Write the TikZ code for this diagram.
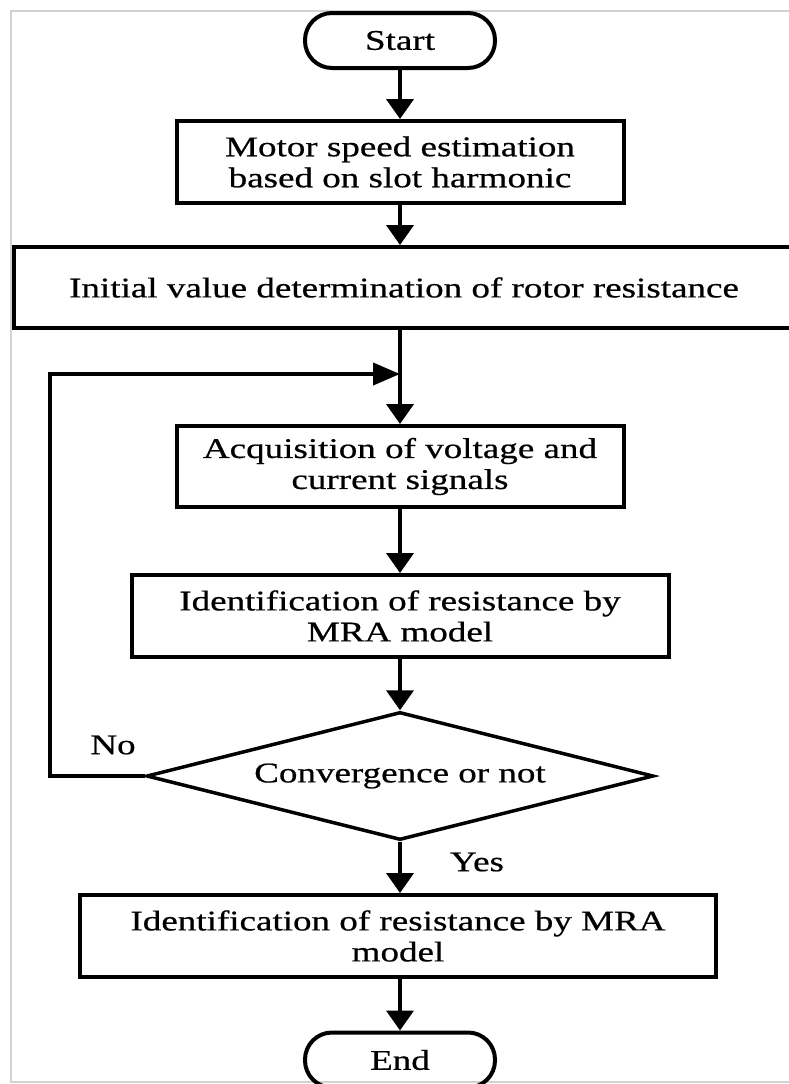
\documentclass[tikz,border=0pt]{standalone}
\usepackage{fontspec}
\setmainfont[FakeStretch=1.3,FakeBold=0.6]{Liberation Serif}
\usetikzlibrary{positioning,arrows.meta,shapes.geometric}
\tikzset{>={Triangle[length=20pt,width=27pt]}}
\tikzset{
  box/.style={rectangle,draw=black,line width=4pt,align=center,inner sep=0pt,font=\fontsize{28.5}{31}\selectfont},
  term/.style={rectangle,rounded corners=27pt,draw=black,line width=4pt,minimum width=190pt,minimum height=55pt,font=\fontsize{28.5}{31}\selectfont},
  decide/.style={diamond,draw=black,line width=3.5pt,shape aspect=4,inner sep=0pt,minimum width=507pt,minimum height=128pt,font=\fontsize{28.5}{31}\selectfont},
  lbl/.style={font=\fontsize{28.5}{31}\selectfont},
  conn/.style={line width=4pt}
}

\begin{document}
\begin{tikzpicture}[x=1pt,y=-1pt]
\useasboundingbox (0,0) rectangle (789,1084);
% frame of the figure
\draw[gray!35,line width=1.5pt] (789,11) -- (11,11) -- (11,1082) -- (789,1082);

\node[term] (1) at(400,40.5){Start};
\node[box,minimum width=447pt,minimum height=82pt] (2) at(400,162){Motor speed estimation\\based on slot harmonic};
\node[box,minimum width=780pt,minimum height=81pt] (3) at(404,287.5){Initial value determination of rotor resistance};
\node[box,minimum width=447pt,minimum height=81pt] (4) at(400,466.5){Acquisition of voltage and\\current signals};
\node[box,minimum width=537pt,minimum height=82pt] (5) at(400,616){Identification of resistance by\\MRA model};
\node[decide] (6) at(400,776){Convergence or not};
\node[box,minimum width=636pt,minimum height=82pt] (7) at(398,936){Identification of resistance by MRA\\model};
\node[term] (8) at(400,1060){End};

\node[lbl] (no) at(113,745){No};
\node[lbl] (yes) at(477,862){Yes};

\coordinate (j) at(400,374);
\coordinate (k) at(50,374);

\draw[conn,->] (1) --(2);
\draw[conn,->] (2) --(2 |- 3.north);
\draw[conn,->] (4 |- 3.south) --(4);
\draw[conn,->] (4) --(5);
\draw[conn,->] (5) --(6);
\draw[conn,->] (6) --(6 |- 7.north);
\draw[conn,->] (8 |- 7.south) --(8);
\draw[conn,-{Triangle[length=27pt,width=22pt]}] (6.west) -| (k) -- (j);

\end{tikzpicture}
\end{document}
